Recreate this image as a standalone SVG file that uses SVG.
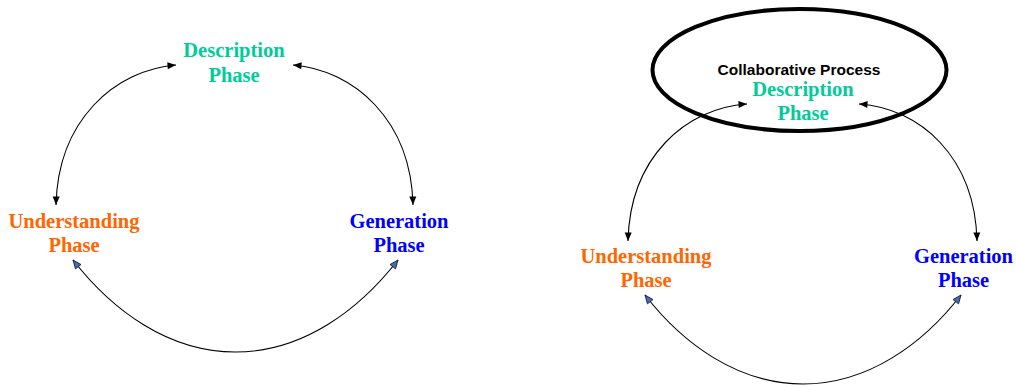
<svg xmlns="http://www.w3.org/2000/svg" width="1016" height="387" viewBox="0 0 1016 387">
<style>
.ph{font-family:"Liberation Serif","Times New Roman",serif;font-weight:bold;font-size:20.5px;text-anchor:middle}
.desc{fill:#00CC99}
.und{fill:#FF6600}
.gen{fill:#0000FF}
.cp{font-family:"Liberation Sans",Arial,sans-serif;font-weight:bold;font-size:15.5px;text-anchor:middle;fill:#000}
.arc{fill:none;stroke:#000;stroke-width:1.1}
.blk{marker-start:url(#mb);marker-end:url(#mb)}
.blu{marker-start:url(#mu);marker-end:url(#mu)}
</style>
<defs>
<marker id="mb" markerUnits="userSpaceOnUse" markerWidth="10" markerHeight="8" refX="8.5" refY="3.5" orient="auto-start-reverse" overflow="visible">
<path d="M0,0 L8.5,3.5 L0,7 z" fill="#000"/>
</marker>
<marker id="mu" markerUnits="userSpaceOnUse" markerWidth="10" markerHeight="8" refX="8.5" refY="3.5" orient="auto-start-reverse" overflow="visible">
<path d="M0,0 L8.5,3.5 L0,7 z" fill="#3F6FB5" stroke="#1a1a2a" stroke-width="0.8" stroke-linejoin="miter"/>
</marker>
</defs>
<rect width="1016" height="387" fill="#fff"/>
<g id="collab-ellipse">
<ellipse cx="799.5" cy="70" rx="147" ry="61" fill="none" stroke="#000" stroke-width="4"/>
</g>
<g id="connectors">
<path class="arc blk" d="M56,205 C58,120 115,70 176,65"/>
<path class="arc blk" d="M293,65 C354,70 411,120 413,205"/>
<path class="arc blu" d="M73,260 C112,310 168,352 235.5,352 S359,310 398,260"/>
<path class="arc blk" d="M628,241 C630,157 686,108 747,104"/>
<path class="arc blk" d="M859,104 C920,108 975,157 977,241"/>
<path class="arc blu" d="M645,295 C683,344 738,384 803,384 S923,344 961,295"/>
</g>
<g id="left-description">
<text class="ph desc" x="234" y="57">Description</text>
<text class="ph desc" x="234" y="82">Phase</text>
</g>
<g id="left-understanding">
<text class="ph und" x="74" y="228">Understanding</text>
<text class="ph und" x="74" y="252">Phase</text>
</g>
<g id="left-generation">
<text class="ph gen" x="399" y="228">Generation</text>
<text class="ph gen" x="399" y="252">Phase</text>
</g>
<g id="right-collaborative">
<text class="cp" x="799" y="75">Collaborative Process</text>
</g>
<g id="right-description">
<text class="ph desc" x="803" y="96">Description</text>
<text class="ph desc" x="803" y="119.5">Phase</text>
</g>
<g id="right-understanding">
<text class="ph und" x="646" y="263">Understanding</text>
<text class="ph und" x="646" y="287">Phase</text>
</g>
<g id="right-generation">
<text class="ph gen" x="963.5" y="263">Generation</text>
<text class="ph gen" x="963.5" y="287">Phase</text>
</g>
</svg>
